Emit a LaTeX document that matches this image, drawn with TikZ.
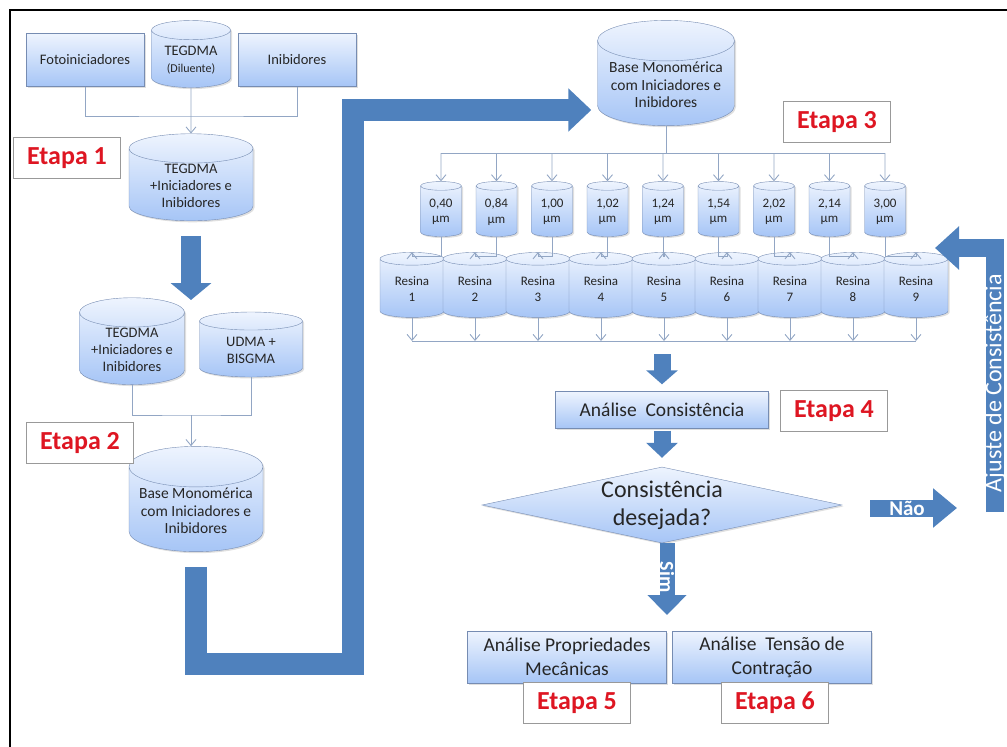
\documentclass[tikz,border=0pt]{standalone}
\usepackage{fontspec}
\setmainfont{Carlito}
\usetikzlibrary{arrows.meta,positioning,shapes.geometric,shadows}
\definecolor{bigblue}{RGB}{79,129,189}
\definecolor{boxtop}{RGB}{238,244,254}
\definecolor{boxbot}{RGB}{166,197,246}
\definecolor{boxedge}{RGB}{118,140,178}
\definecolor{linkc}{RGB}{146,166,196}
\definecolor{etred}{RGB}{222,22,34}
\newcommand\fsbox{\fontsize{14.5}{17}\selectfont}
\newcommand\fssmall{\fontsize{12}{14}\selectfont}
\newcommand\fsbase{\fontsize{15.5}{17.5}\selectfont}
\newcommand\fsres{\fontsize{13}{15.5}\selectfont}
\newcommand\fsmid{\fontsize{19.5}{24}\selectfont}
\newcommand\fsdia{\fontsize{24}{28}\selectfont}
\newcommand\fsetapa{\fontsize{26}{30}\selectfont\bfseries}
\newcommand\fsyn{\fontsize{21}{22}\selectfont\bfseries}
\newcommand\fsajuste{\fontsize{24}{26}\selectfont}
\tikzset{
  proc/.style={draw=boxedge,top color=boxtop,bottom color=boxbot,align=center,
               inner sep=1pt,font=\fsbox,text=black!85,
               drop shadow={shadow xshift=1.5pt,shadow yshift=-1.5pt,opacity=.25}},
  db/.style={proc,cylinder,shape border rotate=90,aspect=0.35},
  dia/.style={proc,diamond,aspect=4.7,inner sep=0pt,font=\fsdia},
  etapa/.style={draw=gray!80,fill=white,text=etred,font=\fsetapa,
                minimum width=107,minimum height=41,inner sep=0pt},
  link/.style={draw=linkc,line width=0.9pt},
  tip/.style={-{Straight Barb[length=6pt,width=10pt]}},
  bigarr/.style={draw=bigblue,line join=miter},
  yn/.style={text=white,font=\fsyn,inner sep=0pt},
}
\begin{document}
\begin{tikzpicture}[x=1pt,y=-1pt]
\useasboundingbox (0,0) rectangle (1007,747);
% moldura
\draw[line width=2pt] (10,747) -- (10,10) -- (1007,10);

% Etapa 1
\node[proc,minimum width=118,minimum height=53] (foto) at (85,60) {Fotoiniciadores};
\node[db,minimum width=79,minimum height=67] (tegd) at (191,60) {TEGDMA\\{\fssmall(Diluente)}};
\node[proc,minimum width=118,minimum height=53] (inib) at (297,60) {Inibidores};
\node[db,minimum width=124,minimum height=68] (tegi) at (191,186) {TEGDMA\\+Iniciadores e\\Inibidores};
\node[etapa] (et1) at (67,158) {Etapa 1};
\coordinate (j1) at (191,116);
\draw[link] (foto.south) |- (j1) -| (inib.south);
\draw[link,tip] (tegd.south) -- (tegi.north);
\coordinate (a1) at (191,300);
\draw[bigarr,line width=20pt,-{Triangle[length=17pt,width=40pt]}]
  ([yshift=-15pt]tegi.south) -- (a1);

% Etapa 2
\node[db,minimum width=105,minimum height=65] (tegi2) at (132,350) {TEGDMA\\+Iniciadores e\\Inibidores};
\node[db,minimum width=103,minimum height=65] (udma) at (251,350) {UDMA +\\BISGMA};
\node[db,minimum width=134,minimum height=103,font=\fsbase] (base1) at (196,511)
  {Base Monomérica\\com Iniciadores e\\Inibidores};
\node[etapa] (et2) at (80,443) {Etapa 2};
\coordinate (j2) at (191,415);
\draw[link] (tegi2.south) |- (j2) -| (udma.south);
\draw[link,tip] (j2) -- (j2 |- base1.north);

% seta em L ate a etapa 3
\node[db,minimum width=137,minimum height=105,font=\fsbase] (base2) at (666,85)
  {Base Monomérica\\com Iniciadores e\\Inibidores};
\coordinate (c1) at (196,664);
\coordinate (c2) at (353,664);
\coordinate (c3) at (353,110);
\draw[bigarr,line width=22pt,-{Triangle[length=23pt,width=42pt]}]
  ([yshift=-15pt]base1.south) -- (c1) -- (c2) -- (c3) -- ([xshift=-6pt]base2.west |- c3);

% Etapa 3
\node[etapa] (et3) at (837,122) {Etapa 3};
\coordinate (bus1) at (0,153);
\coordinate (mid) at (0,256);
\coordinate (bus2) at (0,341);
\foreach \v [count=\i] in {{0,40},{0,84},{1,00},{1,02},{1,24},{1,54},{2,02},{2,14},{3,00}}{
  \node[db,minimum width=41,minimum height=55,font=\fsres] (p\i) at ({441+55.5*(\i-1)},212) {\v\\µm};
  \node[db,minimum width=64,minimum height=65,font=\fsres] (r\i) at ({412+63*(\i-1)},289) {Resina\\\i};
}
\draw[link] (base2.south) -- (base2.south |- bus1);
\draw[link] (p1 |- bus1) -- (p9 |- bus1);
\draw[link] (r1 |- bus2) -- (r9 |- bus2);
\foreach \i in {1,...,9}{
  \draw[link,tip] (p\i |- bus1) -- (p\i.north);
  \draw[link,tip] (p\i.south) -- (p\i.south |- mid) -| (r\i.north);
  \draw[link,tip] (r\i.south) -- (r\i.south |- bus2);
}

% Etapa 4
\node[proc,minimum width=213,minimum height=37,font=\fsmid] (cons) at (662,410) {Análise\ \ Consistência};
\node[etapa] (et4) at (834,411) {Etapa 4};
\draw[bigarr,line width=17pt,-{Triangle[length=14pt,width=31pt]}]
  ([yshift=37pt]cons.north) -- ([yshift=7pt]cons.north);
\node[dia,minimum width=360,minimum height=76] (desej) at (662,505) {Consistência\\desejada?};
\draw[bigarr,line width=17pt,-{Triangle[length=15pt,width=31pt]}]
  ([yshift=-2pt]cons.south) -- ([yshift=9pt]desej.north);

% Nao / Sim
\coordinate (n0) at (870,508);
\coordinate (n1) at (957,508);
\draw[bigarr,line width=17pt,-{Triangle[length=24pt,width=38pt]}] (n0) -- (n1);
\node[yn] (nao) at (907,508) {Não};
\coordinate (s1) at (667,615);
\draw[bigarr,line width=15pt,-{Triangle[length=20pt,width=38pt]}] (desej.south -| s1) -- (s1);
\node[yn,rotate=-90,font=\fontsize{20}{21}\selectfont\bfseries] (sim) at (667,577) {Sim};

% ajuste de consistencia
\coordinate (aj0) at (995,512);
\coordinate (aj1) at (995,248);
\coordinate (aj2) at (935,248);
\draw[bigarr,line width=18pt,-{Triangle[length=24pt,width=42pt]}] (aj0) -- (aj1) -- (aj2);
\node[rotate=90,text=white,font=\fsajuste] (ajuste) at (995,383) {Ajuste de Consistência};

% Etapas 5 e 6
\node[proc,minimum width=199,minimum height=52,font=\fsmid] (mec) at (567,657) {Análise Propriedades\\Mecânicas};
\node[proc,minimum width=199,minimum height=52,font=\fsmid] (tens) at (772,657) {Análise\ \ Tensão de\\Contração};
\node[etapa] (et5) at (577,703) {Etapa 5};
\node[etapa] (et6) at (775,703) {Etapa 6};
\end{tikzpicture}
\end{document}
